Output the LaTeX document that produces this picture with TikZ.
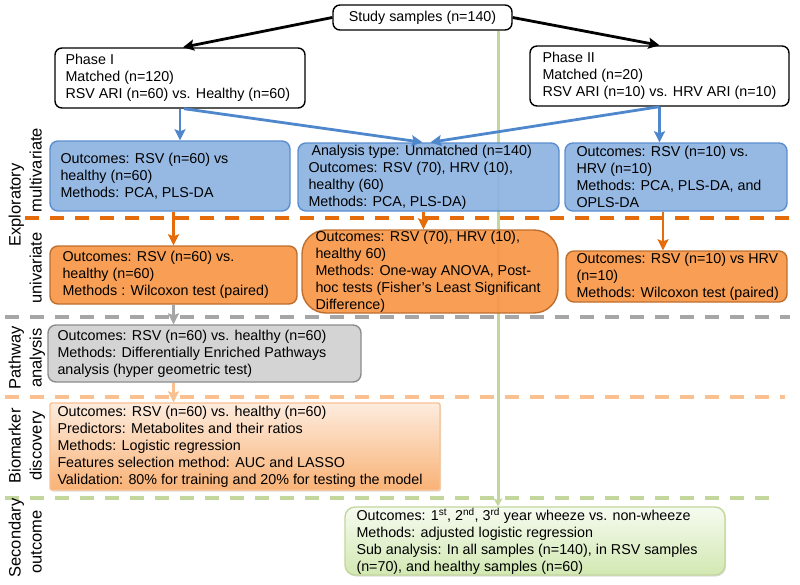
\documentclass[tikz,border=0pt]{standalone}
\usepackage{fontspec}
\setmainfont{Liberation Sans}
\usetikzlibrary{arrows.meta,shadows,fit}

\definecolor{bfill}{RGB}{141,179,226}
\definecolor{bline}{RGB}{91,142,207}
\definecolor{barrow}{RGB}{79,135,205}
\definecolor{ofill}{RGB}{247,150,70}
\definecolor{oline}{RGB}{190,110,45}
\definecolor{oarrow}{RGB}{228,108,10}
\definecolor{gfill}{RGB}{212,212,212}
\definecolor{gline}{RGB}{140,140,140}
\definecolor{garrow}{RGB}{166,166,166}
\definecolor{ltor}{RGB}{250,192,144}
\definecolor{bmtop}{RGB}{253,236,222}
\definecolor{bmbot}{RGB}{249,178,118}
\definecolor{grline}{RGB}{195,214,155}
\definecolor{grtop}{RGB}{246,251,240}
\definecolor{grbot}{RGB}{210,232,178}

\begin{document}
\begin{tikzpicture}[x=1pt,y=-1pt,
  txt/.style={anchor=west, align=left, inner sep=0pt, font=\fontsize{14.3}{17}\selectfont},
  side/.style={rotate=90, anchor=base, inner sep=0pt, font=\fontsize{16.5}{19}\selectfont},
  shape box/.style={fit={#1}, inner sep=0pt, line width=1.4pt},
  wbox/.style={shape box={#1}, draw=black, fill=white, rounded corners=7pt},
  bbox/.style={shape box={#1}, draw=bline, fill=bfill, fill opacity=0.92, rounded corners=8pt},
  obox/.style={shape box={#1}, draw=oline, fill=ofill, fill opacity=0.92, rounded corners=8pt},
  gbox/.style={shape box={#1}, draw=gline, fill=gfill, rounded corners=8pt},
  bmbox/.style={shape box={#1}, draw=ltor, top color=bmtop, bottom color=bmbot, rounded corners=2pt,
     drop shadow={shadow xshift=1pt, shadow yshift=-1.5pt, opacity=0.25}},
  grbox/.style={shape box={#1}, draw=grline, top color=grtop, bottom color=grbot, rounded corners=10pt,
     drop shadow={shadow xshift=1pt, shadow yshift=-1.5pt, opacity=0.25}},
  sep/.style={line width=#1, dash pattern=on 14pt off 11pt},
  arr/.style={line width=2.8pt, -{Stealth[length=11pt,width=11pt,inset=2pt]}},
]
\useasboundingbox (0,0) rectangle (800,584);

% separators
\draw[sep=4pt, oarrow] (25,218) -- (790,218);
\draw[sep=3.5pt, garrow] (5,317) -- (790,317);
\draw[sep=3.5pt, ltor] (5,397) -- (785,397);
\draw[sep=3.5pt, grline] (5,498) -- (780,498);

% side labels
\node[side] (l1) at (20.5,205) {Exploratory};
\node[side] (l2) at (41.5,170) {multivariate};
\node[side] (l3) at (41.5,268) {univariate};
\node[side] (l4) at (20.5,358) {Pathway};
\node[side] (l5) at (41.5,358) {analysis};
\node[side] (l6) at (20.5,446) {Biomarker};
\node[side] (l7) at (41.5,446) {discovery};
\node[side] (l8) at (20.5,538) {Secondary};
\node[side] (l9) at (41.5,542) {outcome};

% boxes
\node[wbox={(333,5) (512,30)}] (study) {};
\node[grbox={(345,507) (725,575)}] (gr) {};
\coordinate (gx) at (498,0);
\draw[line width=3pt, grline, -{Stealth[length=8pt,width=9pt,inset=2pt]}] (study.south -| gx) -- (gr.north -| gx);

\node[wbox={(55,48) (305,108)}] (p1) {};
\node[wbox={(530,46) (789,106)}] (p2) {};
\node[bbox={(50,141) (290,211)}] (b1) {};
\node[bbox={(298,143) (559,211)}] (b2) {};
\node[bbox={(565,143) (787,211)}] (b3) {};
\node[obox={(50,246) (297,304)}] (o1) {};
\node[obox={(302,230) (558,313)}, rounded corners=24pt] (o2) {};
\node[obox={(566,251) (787,302)}] (o3) {};
\node[gbox={(48,325) (361,382)}] (g) {};
\node[bmbox={(50,403) (440,490)}] (bm) {};

% texts
\node[txt, anchor=center] (tstudy) at (study.center) {Study samples (n=140)};
\node[txt] (tp1) at ([xshift=11pt]p1.west) {Phase I\\Matched (n=120)\\RSV ARI (n=60) vs. Healthy (n=60)};
\node[txt] (tp2) at ([xshift=13pt]p2.west) {Phase II\\Matched (n=20)\\RSV ARI (n=10) vs. HRV ARI (n=10)};
\node[txt] (tb1) at ([xshift=11pt]b1.west) {Outcomes: RSV (n=60) vs\\healthy (n=60)\\Methods: PCA, PLS-DA};
\node[txt] (tb2) at ([xshift=11pt]b2.west) {\hspace{3pt}Analysis type: Unmatched (n=140)\\Outcomes: RSV (70), HRV (10),\\healthy (60)\\Methods: PCA, PLS-DA)};
\node[txt] (tb3) at ([xshift=12pt]b3.west) {Outcomes: RSV (n=10) vs.\\HRV (n=10)\\Methods: PCA, PLS-DA, and\\OPLS-DA};
\node[txt] (to1) at ([xshift=13pt]o1.west) {Outcomes: RSV (n=60) vs.\\healthy (n=60)\\Methods : Wilcoxon test (paired)};
\node[txt] (to2) at ([xshift=14pt]o2.west) {Outcomes: RSV (70), HRV (10),\\healthy 60)\\Methods: One-way ANOVA, Post-\\hoc tests (Fisher’s Least Significant\\Difference)};
\node[txt] (to3) at ([xshift=11pt]o3.west) {Outcomes: RSV (n=10) vs HRV\\(n=10)\\Methods: Wilcoxon test (paired)};
\node[txt] (tg) at ([xshift=10pt]g.west) {Outcomes: RSV (n=60) vs. healthy (n=60)\\Methods: Differentially Enriched Pathways\\analysis (hyper geometric test)};
\node[txt] (tbm) at ([xshift=8pt]bm.west) {Outcomes: RSV (n=60) vs. healthy (n=60)\\Predictors: Metabolites and their ratios\\Methods: Logistic regression\\Features selection method: AUC and LASSO\\Validation: 80\% for training and 20\% for testing the model};
\node[txt] (tgr) at ([xshift=12pt]gr.west) {Outcomes: 1\textsuperscript{st}, 2\textsuperscript{nd}, 3\textsuperscript{rd} year wheeze vs. non-wheeze\\Methods: adjusted logistic regression\\Sub analysis: In all samples (n=140), in RSV samples\\(n=70), and healthy samples (n=60)};

% arrows
\draw[arr, black] (study.west) -- ([xshift=3pt]p1.north);
\draw[arr, black] (study.east) -- (p2.north);
\draw[arr, barrow] (p1.south) -- (p1.south |- b1.north);
\draw[arr, barrow] ([xshift=4pt]p1.south) -- ([xshift=-6pt]b2.north);
\draw[arr, barrow] (p2.south) -- ([xshift=2pt]b2.north);
\draw[arr, barrow] (p2.south) -- (p2.south |- b3.north);
\draw[arr, oarrow] (o1.north |- b1.south) -- (o1.north);
\draw[arr, oarrow] ([xshift=-5pt]b2.south) -- ([xshift=-5pt]b2.south |- o2.north);
\draw[arr, oarrow] ([xshift=-13pt]b3.south) -- ([xshift=-13pt]b3.south |- o3.north);
\draw[arr, garrow] (o1.south) -- (o1.south |- g.north);
\draw[arr, ltor] (o1.south |- g.south) -- (o1.south |- bm.north);
\end{tikzpicture}
\end{document}
